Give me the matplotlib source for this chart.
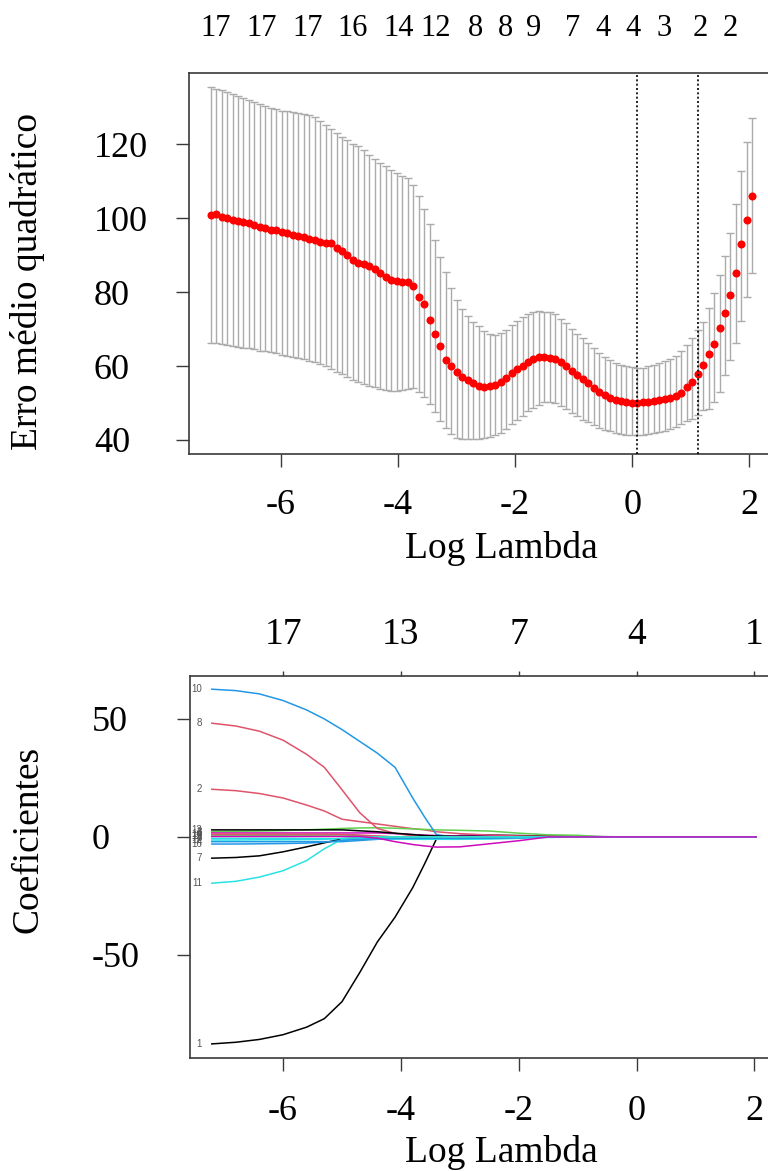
import numpy as np
import matplotlib
matplotlib.use("Agg")
import matplotlib.pyplot as plt

plt.rcParams['font.family'] = ['Liberation Serif', 'DejaVu Serif']
plt.rcParams['axes.unicode_minus'] = False

# ---------------- data: cross-validation curve (top panel) ----------------
# 100 lambda values, evenly spaced in log scale (glmnet grid)
log_lambda = np.linspace(-7.2, 2.05, 100)

cv_mean = [100.9, 101.0, 100.4, 100.0, 99.6, 99.3, 98.9, 98.6, 98.2, 97.7,
           97.3, 96.9, 96.7, 96.3, 95.9, 95.5, 95.1, 94.9, 94.5, 94.1,
           93.6, 93.2, 93.2, 91.9, 91.0, 90.0, 88.8, 87.9, 87.5, 87.1,
           86.3, 85.2, 84.1, 83.3, 83.0, 82.8, 82.8, 81.7, 78.8, 76.8,
           72.5, 68.7, 65.3, 61.6, 59.9, 58.4, 57.0, 56.1, 55.4, 54.6,
           54.2, 54.5, 55.0, 55.8, 56.7, 58.0, 59.1, 60.1, 61.0, 61.8,
           62.4, 62.5, 62.3, 61.9, 61.1, 60.0, 58.6, 57.6, 56.4, 55.4,
           54.0, 53.1, 52.1, 51.4, 50.8, 50.5, 50.2, 50.1, 50.1, 50.2,
           50.4, 50.6, 50.8, 51.1, 51.4, 51.8, 52.8, 54.2, 55.6, 57.8,
           60.3, 63.2, 65.9, 70.2, 74.3, 79.1, 85.2, 92.9, 99.5, 106.0]

cv_upper = [135.6, 135.0, 134.6, 134.1, 133.5, 133.0, 132.4, 131.9, 131.3, 130.9,
            130.4, 129.9, 129.5, 129.1, 128.9, 128.7, 128.5, 128.3, 128.0, 127.3,
            126.2, 125.2, 124.2, 123.0, 122.0, 121.2, 120.0, 119.4, 118.5, 117.2,
            116.0, 115.0, 114.0, 113.0, 112.2, 111.5, 110.8, 109.0, 106.0, 102.5,
            98.5, 94.0, 89.5, 85.5, 81.0, 77.8, 75.5, 73.5, 72.0, 70.7,
            69.5, 68.6, 68.5, 69.0, 69.8, 71.0, 72.2, 73.3, 74.0, 74.5,
            74.8, 74.7, 74.5, 74.0, 72.8, 71.6, 70.0, 68.8, 67.6, 66.2,
            64.9, 63.6, 62.5, 61.6, 60.9, 60.4, 60.0, 59.7, 59.5, 59.6,
            59.9, 60.3, 60.7, 61.3, 62.0, 62.8, 64.2, 65.8, 67.6, 69.8,
            72.0, 75.8, 79.7, 84.6, 89.8, 96.1, 103.8, 112.9, 120.7, 127.1]

cv_lower = [66.3, 66.1, 65.9, 65.7, 65.5, 65.2, 65.0, 64.8, 64.5, 64.2,
            64.0, 63.7, 63.4, 63.1, 62.8, 62.5, 62.2, 61.8, 61.4, 61.0,
            60.5, 60.0, 59.3, 58.4, 57.8, 57.0, 56.3, 55.7, 55.2, 54.7,
            54.2, 53.7, 53.4, 53.3, 53.3, 53.5, 53.8, 54.0, 53.0, 51.6,
            49.6, 47.5, 45.2, 43.2, 41.6, 40.6, 40.3, 40.2, 40.2, 40.3,
            40.4, 40.7, 41.3, 42.0, 43.0, 44.3, 45.5, 46.6, 47.7, 48.6,
            49.5, 50.2, 50.3, 50.0, 49.3, 48.3, 47.2, 46.4, 45.5, 44.8,
            44.0, 43.3, 42.8, 42.3, 41.9, 41.6, 41.4, 41.3, 41.3, 41.4,
            41.6, 41.8, 42.1, 42.5, 42.9, 43.5, 44.3, 45.0, 45.8, 46.8,
            48.0, 48.5, 50.2, 53.0, 57.5, 61.7, 66.3, 72.3, 78.8, 85.1]

lambda_min = 0.075
lambda_1se = 1.117

nz_top_pos = [-7.12, -6.33, -5.55, -4.78, -3.99, -3.35, -2.68, -2.17, -1.68,
              -1.02, -0.50, 0.02, 0.54, 1.16, 1.68]
nz_top_lab = ['17', '17', '17', '16', '14', '12', '8', '8', '9',
              '7', '4', '4', '3', '2', '2']

# ---------------- data: coefficient paths (bottom panel) ----------------
path_x = [-7.21, -6.8, -6.4, -6.0, -5.6, -5.3, -5.0, -4.7, -4.4, -4.1, -3.8,
          -3.6, -3.4, -3.0, -2.5, -2.0, -1.5, -1.0, -0.5, 0.0, 1.0, 2.03]

coef_1 = [-87.7, -87.0, -85.8, -83.8, -80.6, -77.0, -69.8, -57.5, -44.5, -34.0, -21.5,
          -11.5, -1.0, 0.6, 0.8, 0.6, 0.4, 0.2, 0.1, 0.0, 0.0, 0.0]
coef_2 = [20.2, 19.6, 18.4, 16.5, 13.5, 11.0, 7.5, 6.5, 5.5, 4.5, 3.5,
          3.0, 2.2, 1.4, 0.8, 0.4, 0.3, 0.0, 0.0, 0.0, 0.0, 0.0]
coef_3 = [2.3, 2.4, 2.5, 2.7, 3.0, 3.3, 3.6, 3.8, 3.9, 3.7, 3.4,
          3.2, 3.0, 2.8, 2.5, 1.6, 0.9, 0.7, 0.0, 0.0, 0.0, 0.0]
coef_4 = [-2.0, -2.0, -2.0, -2.0, -2.0, -2.0, -2.0, -1.5, -1.0, -0.6, -0.3,
          0.0, 0.0, 0.0, 0.0, 0.0, 0.0, 0.0, 0.0, 0.0, 0.0, 0.0]
coef_5 = [-0.6, -0.6, -0.6, -0.6, -0.7, -0.7, -0.8, -0.8, -0.9, -0.9, -1.0,
          -1.0, -1.0, -1.0, -0.9, -0.6, -0.2, 0.0, 0.0, 0.0, 0.0, 0.0]
coef_6 = [1.7, 1.7, 1.7, 1.7, 1.7, 1.7, 1.7, 1.7, 1.7, 1.4, 1.0,
          0.8, 0.6, 0.4, 0.2, 0.1, 0.0, 0.0, 0.0, 0.0, 0.0, 0.0]
coef_7 = [-9.0, -8.7, -8.0, -6.3, -4.2, -2.5, -0.8, -0.5, -0.3, -0.1, 0.0,
          0.0, 0.0, 0.0, 0.0, 0.0, 0.0, 0.0, 0.0, 0.0, 0.0, 0.0]
coef_8 = [48.2, 47.0, 44.8, 41.0, 35.0, 29.5, 20.0, 10.3, 3.6, 1.5, 0.5,
          0.0, -0.4, -0.6, -0.4, -0.2, 0.0, 0.0, 0.0, 0.0, 0.0, 0.0]
coef_9 = [0.9, 0.9, 0.9, 0.9, 0.9, 0.9, 0.9, 0.6, 0.3, 0.0, 0.0,
          0.0, 0.0, 0.0, 0.0, 0.0, 0.0, 0.0, 0.0, 0.0, 0.0, 0.0]
coef_10 = [62.6, 62.0, 60.6, 57.8, 53.8, 50.0, 45.5, 40.5, 35.5, 29.5, 16.5,
           8.5, 1.0, -0.5, -0.4, -0.2, 0.0, 0.0, 0.0, 0.0, 0.0, 0.0]
coef_11 = [-19.6, -18.8, -17.0, -14.3, -10.0, -5.0, -1.0, -0.8, -0.6, -0.5, -0.4,
           -0.3, -0.3, -0.2, -0.1, 0.0, 0.0, 0.0, 0.0, 0.0, 0.0, 0.0]
coef_12 = [0.2, 0.2, 0.2, 0.2, 0.2, 0.2, 0.2, 0.2, -0.5, -2.0, -3.2,
           -3.8, -4.3, -4.2, -2.9, -1.6, 0.0, 0.0, 0.0, 0.0, 0.0, 0.0]
coef_13 = [3.0, 3.0, 3.0, 3.0, 3.0, 3.0, 3.0, 2.6, 2.2, 1.6, 1.0,
           0.6, 0.4, 0.2, 0.0, 0.0, 0.0, 0.0, 0.0, 0.0, 0.0, 0.0]
coef_14 = [1.2, 1.2, 1.2, 1.2, 1.2, 1.2, 1.1, 0.8, 0.4, 0.0, 0.0,
           0.0, 0.0, 0.0, 0.0, 0.0, 0.0, 0.0, 0.0, 0.0, 0.0, 0.0]
coef_15 = [0.4, 0.4, 0.4, 0.4, 0.4, 0.4, 0.3, 0.2, 0.0, 0.0, 0.0,
           0.0, 0.0, 0.0, 0.0, 0.0, 0.0, 0.0, 0.0, 0.0, 0.0, 0.0]
coef_16 = [-3.0, -3.0, -2.9, -2.8, -2.6, -2.2, -1.5, -1.0, -0.8, -0.7, -0.6,
           -0.6, -0.6, -0.6, -0.5, -0.3, 0.0, 0.0, 0.0, 0.0, 0.0, 0.0]
coef_17 = [-1.3, -1.3, -1.2, -1.2, -1.1, -1.0, -0.6, -0.3, 0.0, 0.0, 0.0,
           0.0, 0.0, 0.0, 0.0, 0.0, 0.0, 0.0, 0.0, 0.0, 0.0, 0.0]

coefs = [coef_1, coef_2, coef_3, coef_4, coef_5, coef_6, coef_7, coef_8, coef_9,
         coef_10, coef_11, coef_12, coef_13, coef_14, coef_15, coef_16, coef_17]
var_names = [str(i) for i in range(1, 18)]

nz_bottom_pos = [-6, -4, -2, 0, 2]
nz_bottom_lab = ['17', '13', '7', '4', '1']

r_palette = ['#000000', '#DF536B', '#61D04F', '#2297E6', '#28E2E5', '#CD0BBC']

# ---------------- figure ----------------
W, H = 768, 1171
fig = plt.figure(figsize=(W / 100, H / 100), dpi=100)

def px_box(x0, y0, x1, y1):
    return [x0 / W, 1 - y1 / H, (x1 - x0) / W, (y1 - y0) / H]

spine_col = '#3a3a3a'
tick_fs = 26

# ---- top panel ----
ax1 = fig.add_axes(px_box(189, 73.3, 774, 454))
mean = np.array(cv_mean)
ax1.errorbar(log_lambda, mean, yerr=[mean - np.array(cv_lower), np.array(cv_upper) - mean],
             fmt='none', ecolor='#ABABAB', elinewidth=1.0, capsize=3, capthick=1.0, zorder=2)
ax1.plot(log_lambda, mean, 'o', color='#FF0000', ms=5.8, mec='none', zorder=3)
for v in (lambda_min, lambda_1se):
    ax1.axvline(v, color='black', lw=1.2, ls=(0, (1.2, 1.4)), zorder=4)
ax1.set_xlim(-7.57, 2.42)
ax1.set_ylim(36.2, 139.2)
ax1.set_xticks([-6, -4, -2, 0, 2])
ax1.set_yticks([40, 60, 80, 100, 120])
ax1.tick_params(axis='both', direction='out', length=9.5, width=1.0, color=spine_col,
                labelsize=tick_fs)
ax1.tick_params(axis='x', pad=16)
ax1.tick_params(axis='y', pad=59)
for lab in ax1.get_yticklabels():
    lab.set_horizontalalignment('left')
for s in ax1.spines.values():
    s.set_color(spine_col)
    s.set_linewidth(1.2)

ax1t = ax1.twiny()
ax1t.set_xlim(ax1.get_xlim())
ax1t.set_xticks(nz_top_pos)
ax1t.set_xticklabels(nz_top_lab)
ax1t.tick_params(axis='x', length=0, pad=22, labelsize=22)
for s in ax1t.spines.values():
    s.set_visible(False)

fig.text(28 / W, 1 - 282 / H, 'Erro médio quadrático', rotation=90,
         ha='center', va='center', fontsize=27)
fig.text(501 / W, 1 - 548 / H, 'Log Lambda', ha='center', va='center', fontsize=27)

# ---- bottom panel ----
ax2 = fig.add_axes(px_box(190, 676, 778, 1058.3))
for k, c in enumerate(coefs):
    z = 3 if k == 11 else 2
    ax2.plot(path_x, c, color=r_palette[k % 6], lw=1.1, zorder=z)
for k, c in enumerate(coefs):
    ax2.annotate(var_names[k], xy=(path_x[0], c[0]), xytext=(-7, 0),
                 textcoords='offset points', ha='right', va='center',
                 fontsize=7, color='#555555', family=['Liberation Sans', 'DejaVu Sans'])
ax2.set_xlim(-7.58, 2.40)
ax2.set_ylim(-93.8, 68.2)
ax2.set_xticks([-6, -4, -2, 0, 2])
ax2.set_yticks([-50, 0, 50])
ax2.tick_params(axis='both', direction='out', length=9.5, width=1.0, color=spine_col,
                labelsize=tick_fs)
ax2.tick_params(axis='x', pad=17)
ax2.tick_params(axis='y', pad=61)
for lab in ax2.get_yticklabels():
    lab.set_horizontalalignment('left')
for s in ax2.spines.values():
    s.set_color(spine_col)
    s.set_linewidth(1.2)

ax2t = ax2.twiny()
ax2t.set_xlim(ax2.get_xlim())
ax2t.set_xticks(nz_bottom_pos)
ax2t.set_xticklabels(nz_bottom_lab)
ax2t.tick_params(axis='x', direction='out', length=3.6, width=1.0, color=spine_col,
                 pad=14, labelsize=27)
for s in ax2t.spines.values():
    s.set_visible(False)

fig.text(28 / W, 1 - 839 / H, 'Coeficientes', rotation=90,
         ha='center', va='center', fontsize=27)
fig.text(501 / W, 1 - 1153 / H, 'Log Lambda', ha='center', va='center', fontsize=27)

fig.savefig('out.png', dpi=100)
